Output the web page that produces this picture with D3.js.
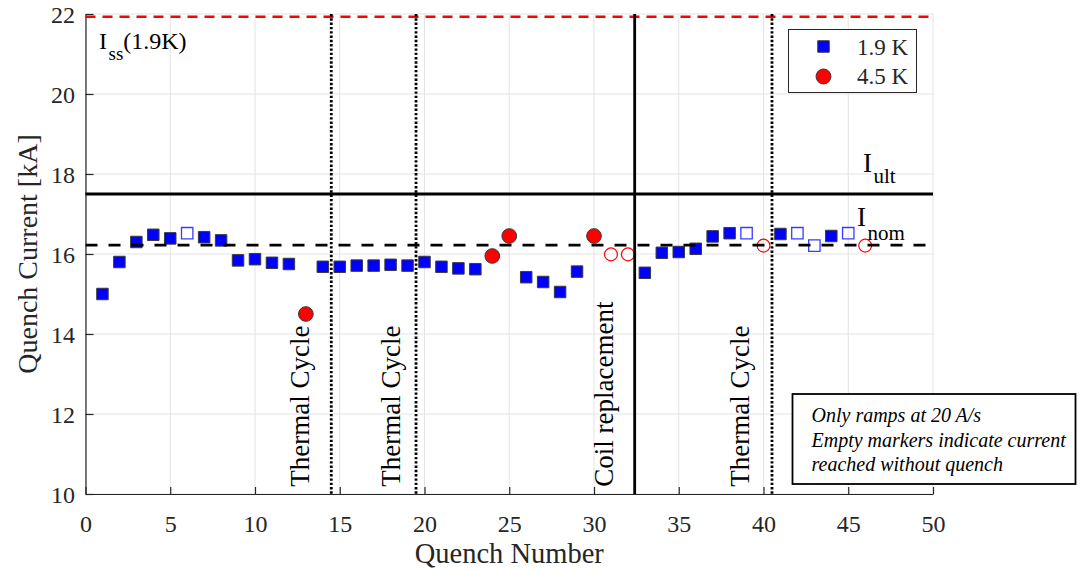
<!DOCTYPE html>
<html>
<head>
<meta charset="utf-8">
<script src="https://cdn.jsdelivr.net/npm/d3@7/dist/d3.min.js"></script>
<style>
  html, body { margin: 0; padding: 0; background: #fff; }
  svg { display: block; font-family: "Liberation Serif", "Times New Roman", serif; }
</style>
</head>
<body>
<svg id="chart" width="1085" height="571"></svg>
<script>
// Quench training data, 1.9 K bath
const quench19 = [1, 2, 3, 4, 5, 6, 7, 8, 9, 10, 11, 12, 14, 15, 16, 17, 18, 19, 20, 21, 22, 23,
                  26, 27, 28, 29, 33, 34, 35, 36, 37, 38, 39, 41, 42, 43, 44, 45];
const current19 = [15.0, 15.8, 16.3, 16.48, 16.39, 16.52, 16.42, 16.34, 15.84, 15.87, 15.78, 15.75,
                   15.68, 15.68, 15.71, 15.71, 15.73, 15.71, 15.8, 15.68, 15.64, 15.62,
                   15.42, 15.3, 15.05, 15.56, 15.53, 16.03, 16.05, 16.13, 16.44, 16.52, 16.52,
                   16.5, 16.52, 16.21, 16.45, 16.52];
// false = current reached without quench (empty marker)
const quenched19 = [true, true, true, true, true, false, true, true, true, true, true, true,
                    true, true, true, true, true, true, true, true, true, true,
                    true, true, true, true, true, true, true, true, true, true, false,
                    true, false, false, true, false];

// Quench training data, 4.5 K bath
const quench45 = [13, 24, 25, 30, 31, 32, 40, 46];
const current45 = [14.5, 15.95, 16.45, 16.45, 15.99, 15.99, 16.21, 16.21];
const quenched45 = [true, true, true, true, false, false, false, false];

// Reference currents [kA]
const I_ss = 21.93;
const I_ult = 17.5;
const I_nom = 16.22;

// Events between quenches
const thermalCycles = [14.5, 19.5, 40.5];
const coilReplacement = 32.4;
const eventLabels = ["Thermal Cycle", "Thermal Cycle", "Coil replacement", "Thermal Cycle"];
const eventLabelX = [13.18, 18.55, 31.1, 39.12];
const eventLabelY = 10.18;

// Axis ticks
const xTicks = [0, 5, 10, 15, 20, 25, 30, 35, 40, 45, 50];
const yTicks = [10, 12, 14, 16, 18, 20, 22];

const noteLines = ["Only ramps at 20 A/s", "Empty markers indicate current", "reached without quench"];

const axisColor = "#262626";
const gridColor = "#e3e3e3";
const blue = "#0000ff";
const red = "#ff0000";

const svg = d3.select("#chart");
const L = 85.5, R = 933, T = 14, B = 494;

const x = d3.scaleLinear().domain([0, 50]).range([L, R]);
const y = d3.scaleLinear().domain([10, 22]).range([B, T]);

// Grid
const grid = svg.append("g");
grid.selectAll(".gx").data(xTicks).join("line")
  .attr("x1", d => x(d)).attr("x2", d => x(d))
  .attr("y1", T).attr("y2", B)
  .attr("stroke", gridColor).attr("stroke-width", 1);
grid.selectAll(".gy").data(yTicks).join("line")
  .attr("x1", L).attr("x2", R)
  .attr("y1", d => y(d)).attr("y2", d => y(d))
  .attr("stroke", gridColor).attr("stroke-width", 1);

// Axes (ticks point inward)
const xAxis = svg.append("g")
  .attr("transform", `translate(0,${B})`)
  .call(d3.axisBottom(x).tickValues(xTicks).tickSizeInner(-7).tickSizeOuter(0).tickPadding(0));
const yAxis = svg.append("g")
  .attr("transform", `translate(${L},0)`)
  .call(d3.axisLeft(y).tickValues(yTicks).tickSizeInner(-8).tickSizeOuter(0).tickPadding(10.5));

[xAxis, yAxis].forEach(g => {
  g.select(".domain").attr("stroke", axisColor).attr("stroke-width", 1.2);
  g.selectAll(".tick line").attr("stroke", axisColor).attr("stroke-width", 1.2);
  g.selectAll(".tick text").attr("fill", axisColor)
    .style("font-family", "'Liberation Serif', serif").style("font-size", "24px");
});
xAxis.selectAll(".tick text").attr("y", 38).attr("dy", 0);
yAxis.selectAll(".tick text").attr("dy", "0.34em");

// Markers
const sq = d3.symbol().type(d3.symbolSquare);
const ci = d3.symbol().type(d3.symbolCircle);

const pts19 = quench19.map((n, i) => ({ n, v: current19[i], q: quenched19[i] }));
const pts45 = quench45.map((n, i) => ({ n, v: current45[i], q: quenched45[i] }));

svg.append("g").selectAll("path").data(pts19).join("path")
  .attr("transform", d => `translate(${x(d.n)},${y(d.v)})`)
  .attr("d", d => sq.size(d.q ? 132 : 130)())
  .attr("fill", d => d.q ? blue : "none")
  .attr("stroke", d => d.q ? "#3a3a3a" : "#3b3bff")
  .attr("stroke-width", d => d.q ? 1 : 1.3);

svg.append("g").selectAll("path").data(pts45).join("path")
  .attr("transform", d => `translate(${x(d.n)},${y(d.v)})`)
  .attr("d", d => ci.size(d.q ? 170 : 130)())
  .attr("fill", d => d.q ? red : "none")
  .attr("stroke", d => d.q ? "#3a3a3a" : red)
  .attr("stroke-width", d => d.q ? 1 : 1.2);

// Reference current levels
svg.append("line")
  .attr("x1", L).attr("x2", R).attr("y1", y(I_ss)).attr("y2", y(I_ss))
  .attr("stroke", red).attr("stroke-width", 2.6).attr("stroke-dasharray", "10,7");
svg.append("line")
  .attr("x1", L).attr("x2", R).attr("y1", y(I_ult)).attr("y2", y(I_ult))
  .attr("stroke", "#000").attr("stroke-width", 3);
svg.append("line")
  .attr("x1", L).attr("x2", R).attr("y1", y(I_nom)).attr("y2", y(I_nom))
  .attr("stroke", "#000").attr("stroke-width", 2.8).attr("stroke-dasharray", "12,11");

// Event lines
svg.append("g").selectAll("line").data(thermalCycles).join("line")
  .attr("x1", d => x(d)).attr("x2", d => x(d)).attr("y1", T).attr("y2", B)
  .attr("stroke", "#000").attr("stroke-width", 2.8).attr("stroke-dasharray", "2.4,1.9");
svg.append("line")
  .attr("x1", x(coilReplacement)).attr("x2", x(coilReplacement)).attr("y1", T).attr("y2", B)
  .attr("stroke", "#000").attr("stroke-width", 2.8);

svg.append("g").selectAll("text").data(eventLabels).join("text")
  .attr("transform", (d, i) => `translate(${x(eventLabelX[i])},${y(eventLabelY)}) rotate(-90)`)
  .attr("text-anchor", "start")
  .attr("fill", "#000")
  .style("font-size", "27px")
  .text(d => d);

// Level labels with subscripts
function levelLabel(xp, yp, main, sub, rest, size, subSize, subDrop) {
  const t = svg.append("text").attr("x", xp).attr("y", yp).attr("fill", "#000")
    .style("font-size", size + "px");
  t.append("tspan").text(main);
  t.append("tspan").attr("dx", 1.5).attr("dy", subDrop).style("font-size", subSize + "px").text(sub);
  if (rest) t.append("tspan").attr("dy", -subDrop).text(rest);
}
levelLabel(99, 48.5, "I", "ss", "(1.9K)", 24, 19, 11.5);
levelLabel(863, 172, "I", "ult", null, 27, 21, 11);
levelLabel(857, 226, "I", "nom", null, 27, 21, 14);

// Legend
const lg = svg.append("g");
lg.append("rect").attr("x", 788.5).attr("y", 29.5).attr("width", 128).attr("height", 63)
  .attr("fill", "#fff").attr("stroke", axisColor).attr("stroke-width", 1);
lg.append("path").attr("transform", "translate(823.5,46.5)").attr("d", sq.size(132)())
  .attr("fill", blue).attr("stroke", "#3a3a3a").attr("stroke-width", 1);
lg.append("path").attr("transform", "translate(823.5,76.5)").attr("d", ci.size(176)())
  .attr("fill", red).attr("stroke", "#3a3a3a").attr("stroke-width", 1);
lg.append("text").attr("x", 857).attr("y", 55).attr("fill", axisColor).style("font-size", "23px").text("1.9 K");
lg.append("text").attr("x", 857).attr("y", 84).attr("fill", axisColor).style("font-size", "23px").text("4.5 K");

// Note box
const nb = svg.append("g");
nb.append("rect").attr("x", 792.5).attr("y", 394).attr("width", 283).attr("height", 90)
  .attr("fill", "#fff").attr("stroke", "#000").attr("stroke-width", 1.8);
nb.selectAll("text").data(noteLines).join("text")
  .attr("x", 811.5).attr("y", (d, i) => 422 + i * 24.5)
  .attr("fill", "#000").style("font-size", "20px").style("font-style", "italic")
  .text(d => d);

// Axis titles
svg.append("text").attr("x", (L + R) / 2).attr("y", 563).attr("text-anchor", "middle")
  .attr("fill", axisColor).style("font-size", "28.5px").text("Quench Number");
svg.append("text").attr("transform", `translate(37,${(T + B) / 2}) rotate(-90)`)
  .attr("text-anchor", "middle").attr("fill", axisColor).style("font-size", "28px")
  .text("Quench Current [kA]");
</script>
</body>
</html>
